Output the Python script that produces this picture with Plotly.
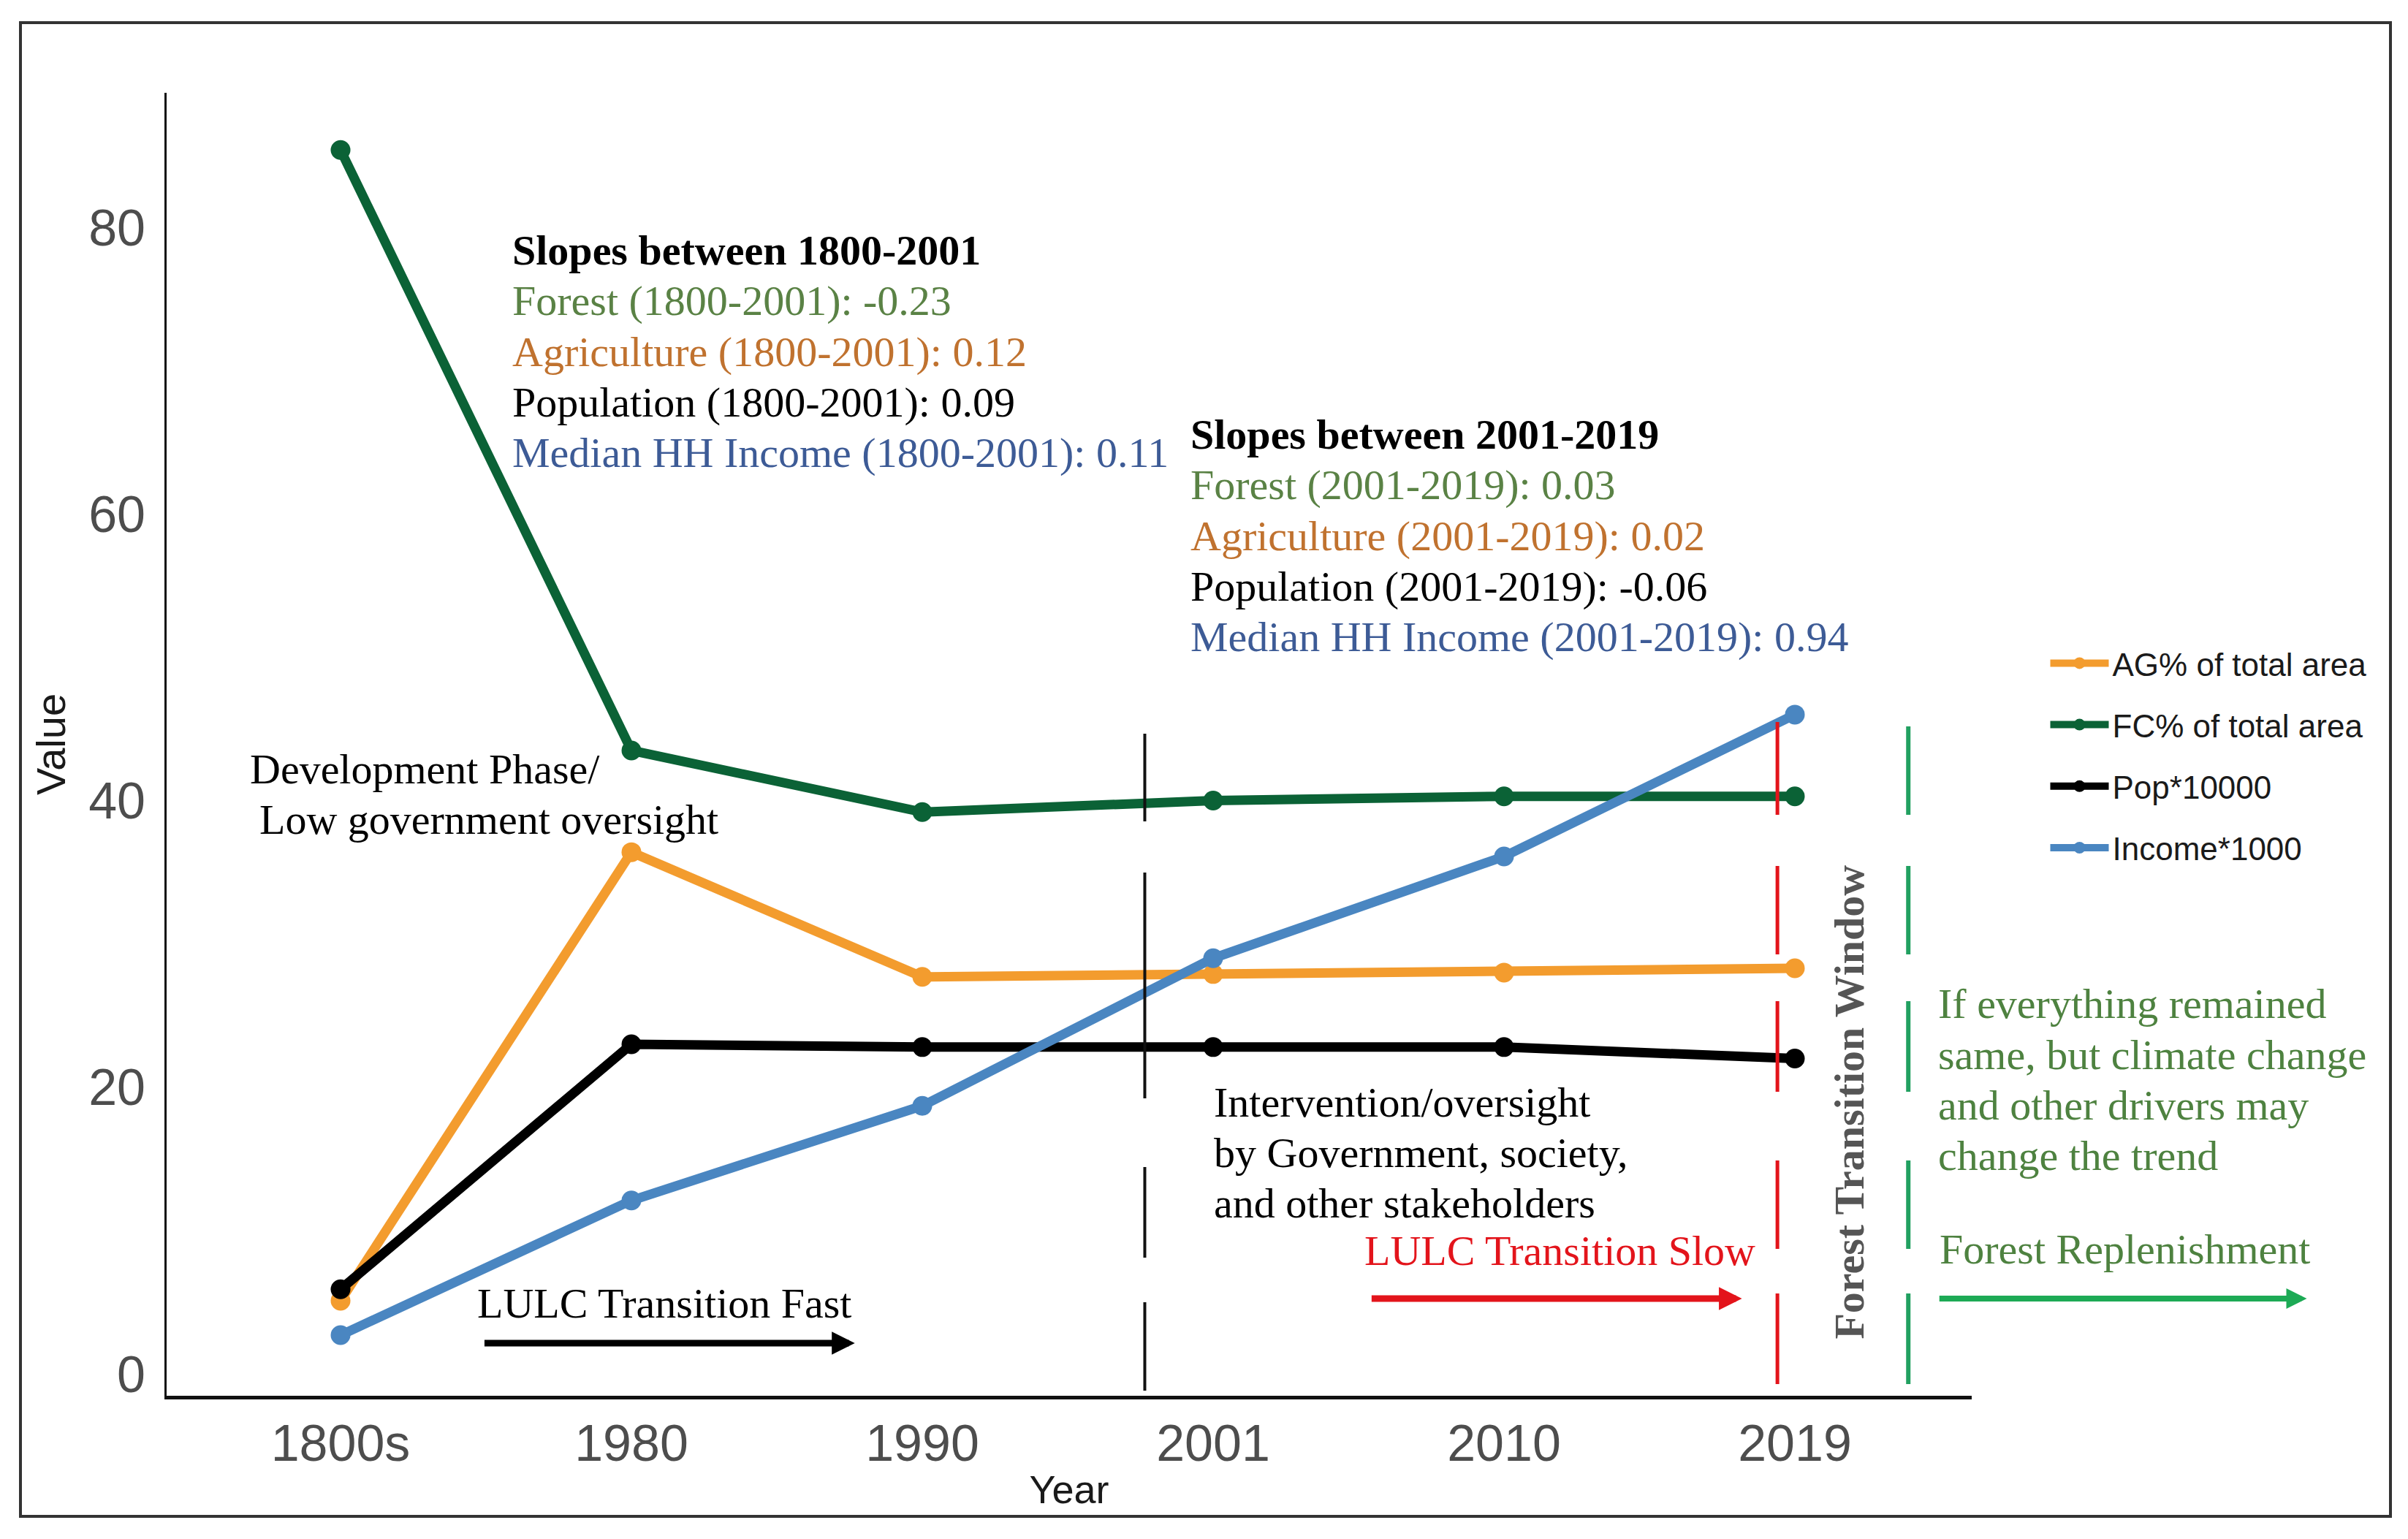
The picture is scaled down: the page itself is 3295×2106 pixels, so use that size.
import plotly.graph_objects as go

# ---------------- data ----------------
years = ["1800s", "1980", "1990", "2001", "2010", "2019"]
ag_pct = [5.1, 36.4, 27.7, 27.9, 28.0, 28.3]
fc_pct = [85.4, 43.5, 39.2, 40.0, 40.3, 40.3]
pop_x10000 = [5.9, 23.0, 22.8, 22.8, 22.8, 22.0]
income_x1000 = [2.7, 12.1, 18.7, 29.0, 36.1, 46.0]

series_names = ["AG% of total area", "FC% of total area", "Pop*10000", "Income*1000"]
series_values = [ag_pct, fc_pct, pop_x10000, income_x1000]
series_colors = ["#F39C2E", "#0B6236", "#000000", "#4A86C1"]

y_ticks = [0, 20, 40, 60, 80]

# page body adds an 8px margin, so the figure is slightly smaller than the window
OFF = 8
W, H = 3295 - 2 * OFF, 2106 - 2 * OFF
PL, PR, PT, PB = 228 - OFF, 2698 - OFF, 127 - OFF, 1910 - OFF
L, R, T, B = PL, W - PR, PT, H - PB
PW, PH = PR - PL, PB - PT


def px2paper_x(px):
    return (px - OFF - PL) / PW


def px2paper_y(py):
    return (PB - (py - OFF)) / PH


fig = go.Figure()
for i, (name, vals, col) in enumerate(zip(series_names, series_values, series_colors)):
    fig.add_trace(go.Scatter(
        x=years, y=vals, name=name, mode="lines+markers",
        line=dict(color=col, width=13),
        marker=dict(color=col, size=27, symbol="circle"),
        legendgroup=f"g{i}",
    ))

SERIF = "Liberation Serif, Times New Roman, serif"
SANS = "Liberation Sans, Arial, sans-serif"
FS = 58

annotations = []


def txt(x, y, text, color="#000000", bold=False, size=FS):
    annotations.append(dict(
        x=x, y=y, xref="x", yref="y", text=f"<b>{text}</b>" if bold else text,
        showarrow=False, xanchor="left", yanchor="middle",
        font=dict(family=SERIF, size=size, color=color),
    ))


C_FOREST = "#5A8245"
C_AGRI = "#C0722F"
C_BLUE = "#3D5B96"
C_RED = "#E3141B"
C_GREEN_TXT = "#4E8240"

# block 1
txt(0.586, 78.39, "Slopes between 1800-2001", bold=True)
txt(0.586, 74.86, "Forest (1800-2001): -0.23", C_FOREST)
txt(0.586, 71.33, "Agriculture (1800-2001): 0.12", C_AGRI)
txt(0.586, 67.79, "Population (1800-2001): 0.09")
txt(0.586, 64.26, "Median HH Income (1800-2001): 0.11", C_BLUE)
# block 2
txt(2.918, 65.54, "Slopes between 2001-2019", bold=True)
txt(2.918, 62.01, "Forest (2001-2019): 0.03", C_FOREST)
txt(2.918, 58.47, "Agriculture (2001-2019): 0.02", C_AGRI)
txt(2.918, 54.94, "Population (2001-2019): -0.06")
txt(2.918, 51.41, "Median HH Income (2001-2019): 0.94", C_BLUE)
# phases
txt(-0.317, 42.20, "Development Phase/")
txt(-0.285, 38.66, "Low government oversight")
txt(0.464, 4.93, "LULC Transition Fast")
txt(2.997, 18.96, "Intervention/oversight")
txt(2.997, 15.42, "by Government, society,")
txt(2.997, 11.89, "and other stakeholders")
txt(3.515, 8.57, "LULC Transition Slow", C_RED)
txt(5.488, 25.81, "If everything remained", C_GREEN_TXT)
txt(5.488, 22.28, "same, but climate change", C_GREEN_TXT)
txt(5.488, 18.74, "and other drivers may", C_GREEN_TXT)
txt(5.488, 15.21, "change the trend", C_GREEN_TXT)
txt(5.493, 8.67, "Forest Replenishment", C_GREEN_TXT)

annotations.append(dict(
    x=5.187, y=18.96, xref="x", yref="y", text="<b>Forest Transition Window</b>",
    showarrow=False, textangle=-90, xanchor="center", yanchor="middle",
    font=dict(family=SERIF, size=58, color="#555555"),
))


def arrow(x0, x1, y, color, width):
    annotations.append(dict(
        x=x1, y=y, ax=x0, ay=y, xref="x", yref="y", axref="x", ayref="y",
        text="", showarrow=True, arrowhead=2, arrowsize=0.7, arrowwidth=width,
        arrowcolor=color, standoff=0, startstandoff=0,
    ))


arrow(0.491, 1.768, 2.14, "#000000", 9)
arrow(3.541, 4.818, 5.25, C_RED, 9)
arrow(5.493, 6.760, 5.25, "#1DAA55", 8)

shapes = [
    # outer frame
    dict(type="rect", xref="paper", yref="paper",
         x0=px2paper_x(28), x1=px2paper_x(3271),
         y0=px2paper_y(2075), y1=px2paper_y(31),
         line=dict(color="#333333", width=4), fillcolor="rgba(0,0,0,0)", layer="below"),
    # vertical dashed markers
    dict(type="line", xref="x", yref="y", x0=2.765, x1=2.765, y0=44.67, y1=-1.17,
         line=dict(color="#111111", width=4, dash="120px,70px,309px,94px,124px,61px,121px,300px")),
    dict(type="line", xref="x", yref="y", x0=4.94, x1=4.94, y0=45.49, y1=-0.71,
         line=dict(color=C_RED, width=5, dash="127px,70px,121px,64px,124px,94px,121px,61px,124px,300px")),
    dict(type="line", xref="x", yref="y", x0=5.39, x1=5.39, y0=45.18, y1=-0.71,
         line=dict(color="#21A060", width=6, dash="121px,70px,121px,64px,124px,94px,121px,61px,124px,300px")),
]

fig.update_layout(
    width=W, height=H,
    margin=dict(l=L, r=R, t=T, b=B, autoexpand=False),
    paper_bgcolor="white", plot_bgcolor="white",
    showlegend=True,
    legend=dict(x=1.0415, y=0.582, xanchor="left", yanchor="top",
                font=dict(family=SANS, size=44, color="#1A1A1A"),
                itemwidth=80,
                tracegroupgap=24, bgcolor="rgba(0,0,0,0)"),
    xaxis=dict(
        type="category", categoryorder="array", categoryarray=years,
        range=[-0.598, 5.608], showgrid=False, zeroline=False,
        showline=True, linecolor="#111111", linewidth=5, ticks="",
        tickfont=dict(family=SANS, size=70, color="#4D4D4D"),
        title=dict(text="Year", font=dict(family=SANS, size=54, color="#1A1A1A"), standoff=8),
        automargin=False,
    ),
    yaxis=dict(
        range=[-1.53, 89.39], tickvals=y_ticks, showgrid=False, zeroline=False,
        showline=True, linecolor="#111111", linewidth=3, ticks="",
        ticklabelstandoff=12,
        tickfont=dict(family=SANS, size=70, color="#4D4D4D"),
        title=dict(text="Value", font=dict(family=SANS, size=56, color="#1A1A1A"), standoff=14),
        automargin=False,
    ),
    annotations=annotations,
    shapes=shapes,
)

fig.write_html("out.html")
